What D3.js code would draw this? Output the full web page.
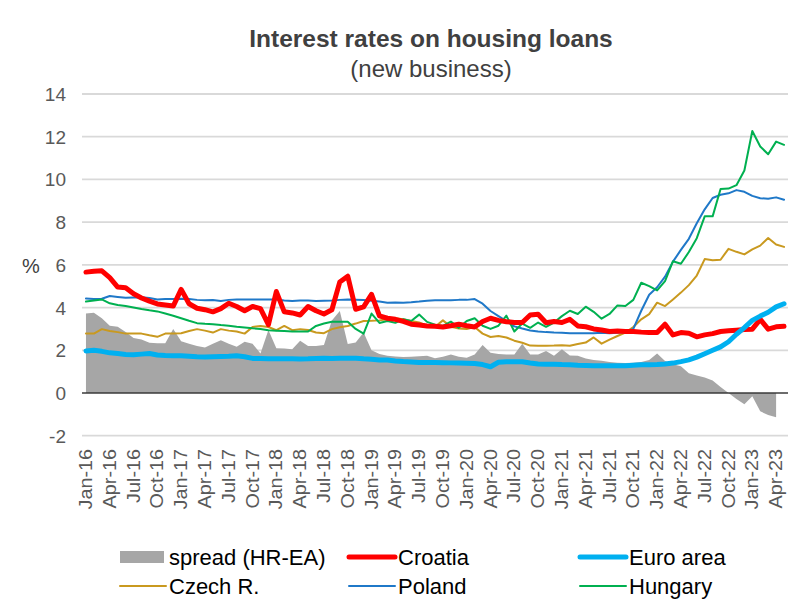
<!DOCTYPE html>
<html lang="en">
<head>
<meta charset="UTF-8">
<title>Interest rates on housing loans</title>
<script src="https://cdn.jsdelivr.net/npm/d3@7"></script>
<style>
    body{ margin:0; background:#fff; }
    text{ font-family: "Liberation Sans", Arial, sans-serif; }
</style>
</head>
<body>
<svg id="chart" width="812" height="608"></svg>
<script>
// months Jan-16 .. May-23
const months = d3.range(89).map(i => {
    const d = new Date(2016, i, 1)
    return d3.timeFormat("%b-%y")(d)
})
// values (%)
const croatia = [5.66,5.7,5.72,5.4,4.96,4.93,4.65,4.45,4.3,4.17,4.12,4.07,4.85,4.18,3.97,3.9,3.8,3.95,4.2,4.05,3.85,4.05,3.95,3.2,
    4.75,3.8,3.75,3.65,4.05,3.85,3.7,3.9,5.2,5.47,3.92,4.03,4.62,3.61,3.5,3.45,3.35,3.22,3.18,3.14,3.12,3.09,3.15,3.22,
    3.15,3.09,3.35,3.5,3.4,3.34,3.3,3.3,3.65,3.69,3.29,3.35,3.3,3.45,3.14,3.1,3.0,2.95,2.88,2.9,2.88,2.88,2.85,2.83,
    2.83,3.22,2.72,2.83,2.8,2.63,2.72,2.78,2.88,2.91,2.94,2.97,2.99,3.45,2.99,3.1,3.12]
const euroArea = [1.97,2.0,1.95,1.88,1.85,1.8,1.79,1.82,1.85,1.78,1.75,1.74,1.74,1.72,1.7,1.69,1.7,1.71,1.72,1.74,1.7,1.62,1.61,1.6,
    1.6,1.6,1.6,1.59,1.6,1.62,1.63,1.62,1.63,1.63,1.63,1.6,1.58,1.55,1.54,1.5,1.47,1.45,1.43,1.43,1.43,1.42,1.41,1.4,
    1.39,1.38,1.33,1.23,1.44,1.46,1.46,1.46,1.4,1.36,1.35,1.35,1.33,1.32,1.3,1.29,1.28,1.28,1.28,1.28,1.28,1.3,1.32,1.32,
    1.33,1.36,1.4,1.47,1.55,1.68,1.84,2.0,2.16,2.4,2.75,3.06,3.4,3.6,3.78,4.03,4.18]
const spread = [3.72,3.76,3.5,3.15,3.1,2.85,2.57,2.5,2.35,2.33,2.33,3.0,2.42,2.3,2.2,2.13,2.3,2.47,2.3,2.16,2.4,2.3,1.85,2.95,
    2.1,2.08,2.05,2.45,2.2,2.2,2.25,3.4,3.84,2.29,2.36,2.83,2.0,1.82,1.74,1.71,1.68,1.7,1.72,1.74,1.63,1.7,1.8,1.7,
    1.65,1.8,2.25,1.88,1.82,1.8,1.8,2.31,1.8,1.8,1.97,1.74,2.05,1.76,1.74,1.62,1.55,1.51,1.45,1.42,1.4,1.42,1.45,1.55,
    1.85,1.5,1.35,1.25,0.92,0.82,0.72,0.58,0.28,0.0,-0.28,-0.53,-0.15,-0.86,-1.03,-1.14]
const czech = [2.78,2.78,2.99,2.9,2.85,2.78,2.78,2.78,2.7,2.63,2.78,2.78,2.8,2.9,2.99,2.92,2.83,2.99,2.92,2.88,2.78,3.09,3.14,3.09,
    2.94,3.14,2.94,2.99,2.95,2.83,2.8,2.99,3.08,3.14,3.25,3.37,3.38,3.4,3.45,3.5,3.45,3.37,3.3,3.15,3.1,3.4,3.1,3.02,
    3.0,3.09,2.78,2.62,2.67,2.6,2.45,2.35,2.22,2.21,2.21,2.22,2.24,2.21,2.29,2.36,2.6,2.31,2.5,2.67,2.83,3.09,3.45,3.69,
    4.23,4.07,4.38,4.7,5.05,5.5,6.27,6.22,6.24,6.75,6.61,6.49,6.72,6.9,7.26,6.95,6.84]
const poland = [4.43,4.4,4.41,4.54,4.5,4.46,4.47,4.48,4.45,4.38,4.4,4.4,4.41,4.4,4.36,4.34,4.35,4.31,4.36,4.38,4.38,4.38,4.38,4.38,
    4.38,4.33,4.31,4.33,4.33,4.31,4.32,4.33,4.36,4.38,4.37,4.35,4.32,4.28,4.23,4.24,4.23,4.25,4.28,4.32,4.34,4.34,4.34,4.36,
    4.36,4.4,4.18,3.84,3.6,3.37,3.12,3.02,2.93,2.88,2.85,2.83,2.82,2.8,2.8,2.8,2.8,2.82,2.8,2.82,2.86,3.0,3.85,4.6,
    4.95,5.45,6.15,6.7,7.22,7.95,8.6,9.13,9.28,9.35,9.5,9.42,9.23,9.12,9.1,9.16,9.05]
const hungary = [4.28,4.33,4.38,4.2,4.12,4.07,4.0,3.93,3.87,3.82,3.72,3.62,3.5,3.38,3.27,3.24,3.22,3.18,3.15,3.1,3.07,3.03,3.0,2.94,
    2.92,2.9,2.88,2.88,2.88,3.14,3.25,3.34,3.34,3.33,3.0,2.78,3.72,3.28,3.37,3.29,3.45,3.37,3.67,3.33,3.2,3.14,3.34,3.05,
    3.37,3.5,3.15,3.0,3.15,3.62,2.88,3.25,3.05,3.3,3.1,3.3,3.6,3.85,3.7,4.04,3.8,3.48,3.7,4.1,4.07,4.36,5.16,5.0,
    4.8,5.24,6.17,6.05,6.6,7.25,8.27,8.27,9.55,9.57,9.73,10.42,12.27,11.54,11.18,11.77,11.62]
const yTicks = [-2,0,2,4,6,8,10,12,14]

const svg = d3.select("#chart")
const plotLeft = 82, plotRight = 788, plotTop = 94, plotBottom = 435.7

let x = d3.scaleBand().domain(months).range([plotLeft, plotRight])
let y = d3.scaleLinear().domain([-2, 14]).range([plotBottom, plotTop])
const cx = i => x(months[i]) + x.bandwidth() / 2

// title
svg.append("text").attr("x", 431).attr("y", 47).attr("text-anchor", "middle")
    .attr("font-size", 24.5).attr("font-weight", "bold").attr("fill", "#404040")
    .text("Interest rates on housing loans")
svg.append("text").attr("x", 431).attr("y", 77).attr("text-anchor", "middle")
    .attr("font-size", 24).attr("fill", "#404040").text("(new business)")

// gridlines
svg.append("g").selectAll("line").data(yTicks).join("line")
    .attr("x1", plotLeft).attr("x2", plotRight)
    .attr("y1", d => y(d)).attr("y2", d => y(d))
    .attr("stroke", "#d9d9d9").attr("stroke-width", 1.8)

// y labels
svg.append("g").selectAll("text").data(yTicks).join("text")
    .attr("x", 66).attr("y", d => y(d) + 7).attr("text-anchor", "end")
    .attr("font-size", 19).attr("fill", "#595959").text(d => d)
svg.append("text").attr("x", 31).attr("y", 273).attr("text-anchor", "middle")
    .attr("font-size", 20).attr("fill", "#404040").text("%")

// spread area
const area = d3.area().x((d, i) => cx(i)).y0(y(0)).y1(d => y(d))
svg.append("path").datum(spread).attr("d", area).attr("fill", "#a6a6a6")

// category axis
svg.append("line").attr("x1", plotLeft).attr("x2", plotRight)
    .attr("y1", y(0)).attr("y2", y(0)).attr("stroke", "#000").attr("stroke-width", 1.2)

const line = d3.line().x((d, i) => cx(i)).y(d => y(d))
const series = [
    {name: "Czech R.", data: czech, color: "#c9991f", w: 2},
    {name: "Poland", data: poland, color: "#1f78c8", w: 2},
    {name: "Hungary", data: hungary, color: "#00b050", w: 2},
    {name: "Croatia", data: croatia, color: "#ff0000", w: 5},
    {name: "Euro area", data: euroArea, color: "#00b0f0", w: 5}
]
series.forEach(s => {
    svg.append("path").datum(s.data).attr("d", line)
        .attr("fill", "none").attr("stroke", s.color)
        .attr("stroke-width", s.w).attr("stroke-linejoin", "round").attr("stroke-linecap", "round")
})

// x labels every 3 months
svg.append("g").selectAll("text").data(months.filter((m, i) => i % 3 === 0 && i < 88)).join("text")
    .attr("transform", d => `translate(${x(d) + x.bandwidth() / 2 + 6},449) rotate(-90) scale(1.1,1)`)
    .attr("text-anchor", "end").attr("font-size", 18).attr("fill", "#595959")
    .text(d => d)

// legend
const legend = [
    {name: "spread (HR-EA)", type: "rect", color: "#a6a6a6", x: 120, y: 557},
    {name: "Croatia", type: "line", color: "#ff0000", w: 5, x: 349, y: 557},
    {name: "Euro area", type: "line", color: "#00b0f0", w: 5, x: 580, y: 557},
    {name: "Czech R.", type: "line", color: "#c9991f", w: 2, x: 120, y: 586},
    {name: "Poland", type: "line", color: "#1f78c8", w: 2, x: 349, y: 586},
    {name: "Hungary", type: "line", color: "#00b050", w: 2, x: 580, y: 586}
]
legend.forEach(l => {
    if (l.type === "rect") {
        svg.append("rect").attr("x", l.x).attr("y", l.y - 6).attr("width", 44).attr("height", 12).attr("fill", l.color)
    } else {
        svg.append("line").attr("x1", l.x).attr("x2", l.x + 46).attr("y1", l.y).attr("y2", l.y)
            .attr("stroke", l.color).attr("stroke-width", l.w).attr("stroke-linecap", "round")
    }
    svg.append("text").attr("x", l.x + 49).attr("y", l.y + 8).attr("font-size", 22).attr("fill", "#000").text(l.name)
})
</script>
</body>
</html>
